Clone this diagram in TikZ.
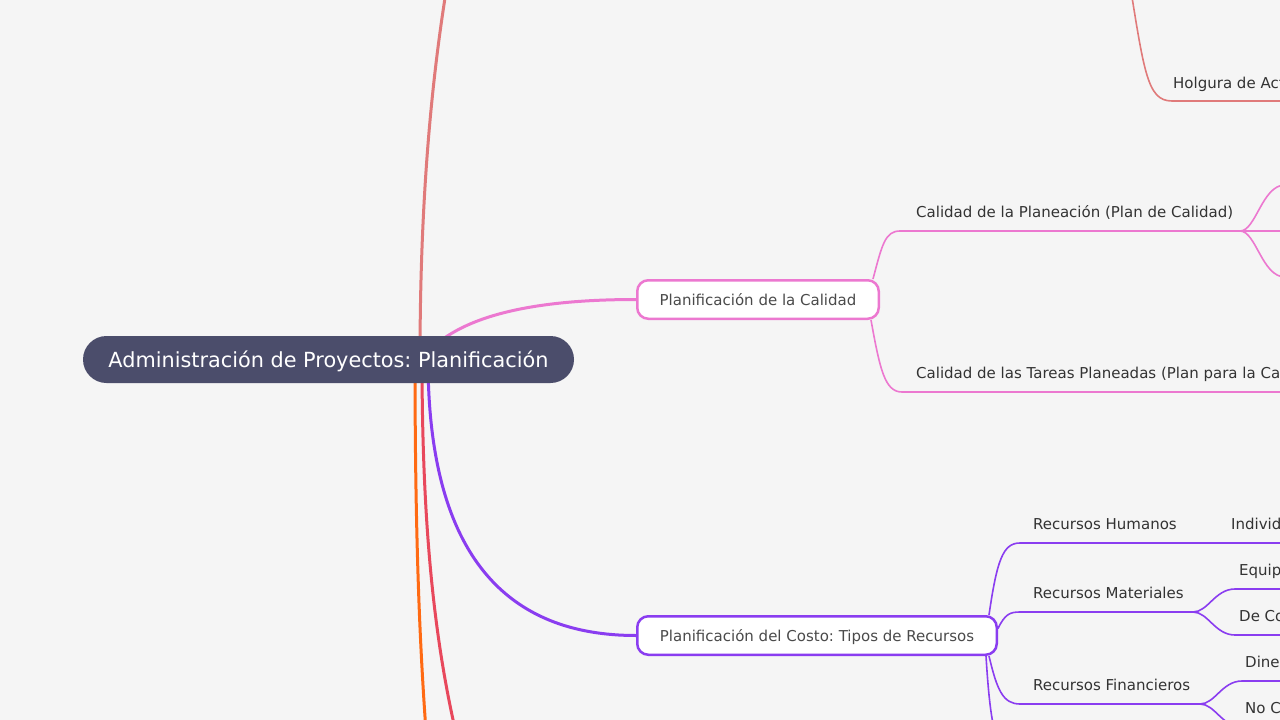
\documentclass[tikz,border=0pt]{standalone}
\usepackage{fontspec}
\setmainfont{DejaVu Sans}
\usepackage{xcolor}
\usepackage{tikz}
\definecolor{paper}{HTML}{F5F5F5}
\definecolor{rootblue}{HTML}{4B4D6B}
\definecolor{calidadpink}{HTML}{EC78D0}
\definecolor{costoviolet}{HTML}{8A3DF0}
\definecolor{tiemposalmon}{HTML}{E07A7A}
\definecolor{branchorange}{HTML}{FF6A13}
\definecolor{branchred}{HTML}{E8485C}
\definecolor{topicgrey}{HTML}{4A4A4A}
\definecolor{leafgrey}{HTML}{333333}
\usetikzlibrary{positioning, backgrounds}
\frenchspacing

\begin{document}
\begin{tikzpicture}[
    x=1pt, y=-1pt,
    root/.style={fill=rootblue, text=white, rounded corners=23.5pt, minimum width=491pt, minimum height=47pt,
                 inner sep=0pt, text height=15pt, text depth=0pt, font=\fontsize{20.8}{24}\selectfont},
    topic/.style={fill=white, line width=2.5pt, rounded corners=11pt, minimum height=38.5pt, inner sep=0pt,
                  text=topicgrey, text height=11pt, text depth=0pt, font=\fontsize{15}{18}\selectfont},
    leaf/.style={anchor=base west, inner sep=0pt, text=leafgrey, font=\fontsize{15}{18}\selectfont},
    branch/.style={line width=3pt},
    twig/.style={line width=1.6pt}
]
    \useasboundingbox (0,0) rectangle (1280,720);
    \clip (0,0) rectangle (1280,720);
    \begin{scope}[on background layer]
        \fill[paper] (0,0) rectangle (1280,720);
    \end{scope}

    % central topic and the two visible main topics
    \node[root] (root) at (328.5,359.5) {Administración de Proyectos: Planificación};
    \node[topic, draw=calidadpink, minimum width=241.5pt] (calidad) at (758,299.5) {Planificación de la Calidad};
    \node[topic, draw=costoviolet, minimum width=359.5pt] (costo) at (817,635.5) {Planificación del Costo: Tipos de Recursos};

    % leaves
    \node[leaf] (holgura) at (1173,88) {Holgura de Act};
    \node[leaf] (planeacion) at (916,217.5) {Calidad de la Planeación (Plan de Calidad)};
    \node[leaf] (tareas) at (916,378.5) {Calidad de las Tareas Planeadas (Plan para la Ca};
    \node[leaf] (humanos) at (1033,529.5) {Recursos Humanos};
    \node[leaf] (individ) at (1231,529.5) {Individ};
    \node[leaf] (materiales) at (1033,598.5) {Recursos Materiales};
    \node[leaf] (equip) at (1239,575.5) {Equip};
    \node[leaf] (deco) at (1239,621.5) {De Co};
    \node[leaf] (financieros) at (1033,690.5) {Recursos Financieros};
    \node[leaf] (dine) at (1245,667.5) {Dine};
    \node[leaf] (noc) at (1245,713.5) {No C};

    % hub points behind the root and ends out of the frame
    \coordinate (hubS) at (420,359);
    \coordinate (hubP) at (422,359);
    \coordinate (hubV) at (428,359);
    \coordinate (hubO) at (415,359);
    \coordinate (hubR) at (422,359);
    \coordinate (offS) at (455,-60);
    \coordinate (offO) at (428,760);
    \coordinate (offR) at (468,780);
    \coordinate (holgP) at (1126,-40);
    \coordinate (holgA) at (1172,101);
    \coordinate (planeA) at (900,231);
    \coordinate (planeB) at (1240,231);
    \coordinate (tareasA) at (902,392);
    \coordinate (humA) at (1020,543);
    \coordinate (matA) at (1020,612);
    \coordinate (matB) at (1193,612);
    \coordinate (finA) at (1020,704);
    \coordinate (finB) at (1200,704);
    \coordinate (offV) at (1020,773);

    \begin{scope}[on background layer]
        % main branches
        \draw[branch, tiemposalmon] (hubS) .. controls (420,150) and (440,20) .. (offS);
        \draw[branch, branchorange] (hubO) .. controls (415,600) and (424,700) .. (offO);
        \draw[branch, branchred] (hubR) .. controls (422,560) and (440,680) .. (offR);
        \draw[branch, calidadpink] (hubP) .. controls (452,320) and (520,299.5) .. (calidad.west);
        \draw[branch, costoviolet] (hubV) .. controls (428,560) and (510,635.5) .. (costo.west);

        % holgura
        \draw[twig, tiemposalmon] (holgP) .. controls (1144,70) and (1146,101) .. (holgA) -- (1300,101);

        % calidad
        \draw[twig, calidadpink] ([xshift=-7pt]calidad.north east) .. controls (882,245) and (885,231) .. (planeA) -- (planeB);
        \draw[twig, calidadpink] (planeB) .. controls (1256,231) and (1262,185) .. (1285,185) -- (1300,185);
        \draw[twig, calidadpink] (planeB) -- (1300,231);
        \draw[twig, calidadpink] (planeB) .. controls (1256,231) and (1262,277) .. (1285,277) -- (1300,277);
        \draw[twig, calidadpink] ([xshift=-9pt]calidad.south east) .. controls (880,370) and (885,392) .. (tareasA) -- (1300,392);

        % costo
        \draw[twig, costoviolet] ([xshift=-9pt]costo.north east) .. controls (997,560) and (1003,543) .. (humA) -- (1300,543);
        \draw[twig, costoviolet] ([yshift=7pt]costo.east) .. controls (1005,614) and (1010,612) .. (matA) -- (matB);
        \draw[twig, costoviolet] (matB) .. controls (1208,612) and (1215,589) .. (1235,589) -- (1300,589);
        \draw[twig, costoviolet] (matB) .. controls (1208,612) and (1215,635) .. (1235,635) -- (1300,635);
        \draw[twig, costoviolet] ([xshift=-9pt]costo.south east) .. controls (997,690) and (1003,704) .. (finA) -- (finB);
        \draw[twig, costoviolet] (finB) .. controls (1215,704) and (1222,681) .. (1242,681) -- (1300,681);
        \draw[twig, costoviolet] (finB) .. controls (1215,704) and (1222,727) .. (1242,727) -- (1300,727);
        \draw[twig, costoviolet] ([xshift=-12pt]costo.south east) .. controls (990,720) and (995,760) .. (offV);
    \end{scope}
\end{tikzpicture}
\end{document}
